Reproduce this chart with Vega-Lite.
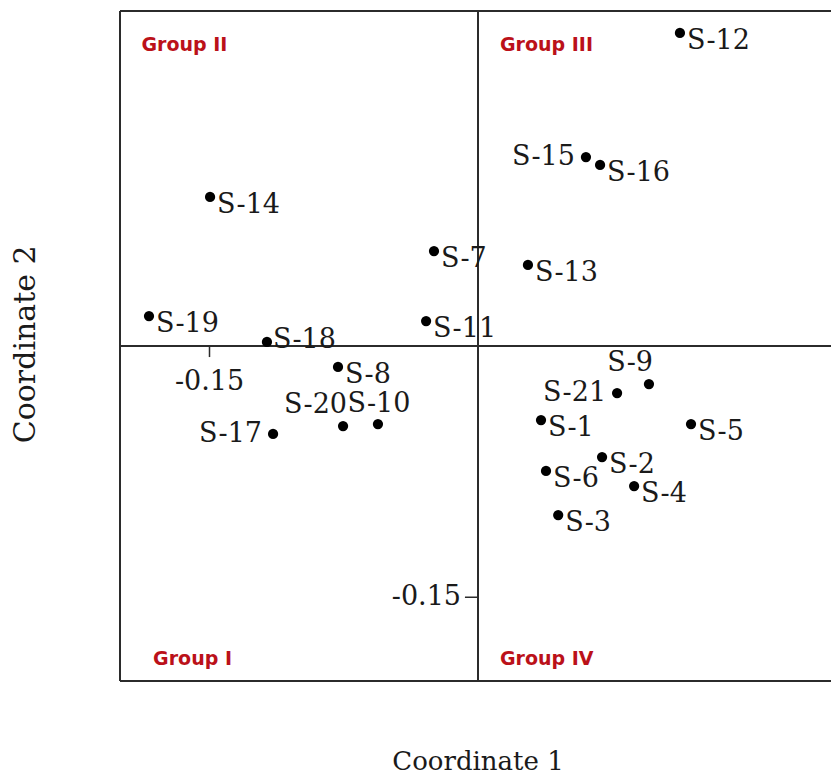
{
  "$schema": "https://vega.github.io/schema/vega-lite/v6.json",
  "width": 711,
  "height": 670,
  "autosize": {"type": "none"},
  "padding": {"left": 120, "top": 11, "right": 0, "bottom": 96},
  "background": "white",
  "config": {
    "view": {"stroke": null}
  },
  "datasets": {
    "points": [
      {"id": "S-1", "c1": 0.0352, "c2": -0.0442, "pos": "r"},
      {"id": "S-2", "c1": 0.0693, "c2": -0.0663, "pos": "r"},
      {"id": "S-3", "c1": 0.0448, "c2": -0.1009, "pos": "r"},
      {"id": "S-4", "c1": 0.0872, "c2": -0.0836, "pos": "r"},
      {"id": "S-5", "c1": 0.1190, "c2": -0.0466, "pos": "r"},
      {"id": "S-6", "c1": 0.0380, "c2": -0.0746, "pos": "r"},
      {"id": "S-7", "c1": -0.0246, "c2": 0.0567, "pos": "r"},
      {"id": "S-8", "c1": -0.0782, "c2": -0.0125, "pos": "r"},
      {"id": "S-9", "c1": 0.0955, "c2": -0.0227, "pos": "ul"},
      {"id": "S-10", "c1": -0.0559, "c2": -0.0466, "pos": "u"},
      {"id": "S-11", "c1": -0.0290, "c2": 0.0149, "pos": "r"},
      {"id": "S-12", "c1": 0.1128, "c2": 0.1869, "pos": "r"},
      {"id": "S-13", "c1": 0.0279, "c2": 0.0484, "pos": "r"},
      {"id": "S-14", "c1": -0.1497, "c2": 0.0890, "pos": "r"},
      {"id": "S-15", "c1": 0.0603, "c2": 0.1128, "pos": "l"},
      {"id": "S-16", "c1": 0.0682, "c2": 0.1081, "pos": "r"},
      {"id": "S-17", "c1": -0.1145, "c2": -0.0525, "pos": "l"},
      {"id": "S-18", "c1": -0.1179, "c2": 0.0024, "pos": "rm"},
      {"id": "S-19", "c1": -0.1838, "c2": 0.0179, "pos": "r"},
      {"id": "S-20", "c1": -0.0754, "c2": -0.0478, "pos": "ul"},
      {"id": "S-21", "c1": 0.0777, "c2": -0.0281, "pos": "l"}
    ],
    "groups": [
      {"name": "Group II", "c1": -0.188, "c2": 0.1797},
      {"name": "Group III", "c1": 0.0123, "c2": 0.1797},
      {"name": "Group I", "c1": -0.1815, "c2": -0.187},
      {"name": "Group IV", "c1": 0.0123, "c2": -0.187}
    ],
    "one": [{"k": 1}]
  },
  "layer": [
    {
      "data": {"name": "one"},
      "mark": {"type": "rule", "stroke": "#2b2b2b", "strokeWidth": 2},
      "encoding": {
        "x": {"datum": -0.2, "type": "quantitative", "scale": {"domain": [-0.2, 0.1972], "nice": false, "zero": false}, "axis": null}
      }
    },
    {
      "data": {"name": "one"},
      "mark": {"type": "rule", "stroke": "#2b2b2b", "strokeWidth": 2},
      "encoding": {
        "y": {"datum": 0.2, "type": "quantitative", "scale": {"domain": [-0.2, 0.2], "nice": false, "zero": false}, "axis": null}
      }
    },
    {
      "data": {"name": "one"},
      "mark": {"type": "rule", "stroke": "#2b2b2b", "strokeWidth": 2},
      "encoding": {
        "y": {"datum": -0.2, "type": "quantitative", "scale": {"domain": [-0.2, 0.2], "nice": false, "zero": false}, "axis": null}
      }
    },
    {
      "data": {"name": "one"},
      "mark": {"type": "rule", "stroke": "#2b2b2b", "strokeWidth": 2},
      "encoding": {
        "x": {"datum": 0, "type": "quantitative", "scale": {"domain": [-0.2, 0.1972], "nice": false, "zero": false}, "axis": null}
      }
    },
    {
      "data": {"name": "one"},
      "mark": {"type": "rule", "stroke": "#2b2b2b", "strokeWidth": 2},
      "encoding": {
        "y": {"datum": 0, "type": "quantitative", "scale": {"domain": [-0.2, 0.2], "nice": false, "zero": false}, "axis": null}
      }
    },
    {
      "data": {"name": "one"},
      "mark": {"type": "rule", "stroke": "#2b2b2b", "strokeWidth": 1.5},
      "encoding": {
        "x": {"datum": -0.15, "type": "quantitative", "scale": {"domain": [-0.2, 0.1972], "nice": false, "zero": false}, "axis": null},
        "y": {"datum": 0, "type": "quantitative", "scale": {"domain": [-0.2, 0.2], "nice": false, "zero": false}, "axis": null},
        "y2": {"datum": -0.0066}
      }
    },
    {
      "data": {"name": "one"},
      "mark": {"type": "rule", "stroke": "#2b2b2b", "strokeWidth": 1.5},
      "encoding": {
        "x": {"datum": -0.0073, "type": "quantitative", "scale": {"domain": [-0.2, 0.1972], "nice": false, "zero": false}, "axis": null},
        "x2": {"datum": 0},
        "y": {"datum": -0.15, "type": "quantitative", "scale": {"domain": [-0.2, 0.2], "nice": false, "zero": false}, "axis": null}
      }
    },
    {
      "data": {"name": "one"},
      "mark": {"type": "text", "text": "-0.15", "font": "DejaVu Serif", "fontSize": 27, "color": "#1a1a1a", "align": "center", "baseline": "middle", "dy": 36},
      "encoding": {
        "x": {"datum": -0.15, "type": "quantitative", "scale": {"domain": [-0.2, 0.1972], "nice": false, "zero": false}, "axis": null},
        "y": {"datum": 0, "type": "quantitative", "scale": {"domain": [-0.2, 0.2], "nice": false, "zero": false}, "axis": null}
      }
    },
    {
      "data": {"name": "one"},
      "mark": {"type": "text", "text": "-0.15", "font": "DejaVu Serif", "fontSize": 27, "color": "#1a1a1a", "align": "right", "baseline": "middle", "dx": -17, "dy": 0},
      "encoding": {
        "x": {"datum": 0, "type": "quantitative", "scale": {"domain": [-0.2, 0.1972], "nice": false, "zero": false}, "axis": null},
        "y": {"datum": -0.15, "type": "quantitative", "scale": {"domain": [-0.2, 0.2], "nice": false, "zero": false}, "axis": null}
      }
    },
    {
      "data": {"name": "one"},
      "mark": {"type": "text", "text": "Coordinate 1", "font": "DejaVu Serif", "fontSize": 26, "color": "#1a1a1a", "align": "center", "baseline": "middle", "dy": 81},
      "encoding": {
        "x": {"datum": 0, "type": "quantitative", "scale": {"domain": [-0.2, 0.1972], "nice": false, "zero": false}, "axis": null},
        "y": {"datum": -0.2, "type": "quantitative", "scale": {"domain": [-0.2, 0.2], "nice": false, "zero": false}, "axis": null}
      }
    },
    {
      "data": {"name": "one"},
      "mark": {"type": "text", "text": "Coordinate 2", "font": "DejaVu Serif", "fontSize": 30, "color": "#1a1a1a", "align": "center", "baseline": "middle", "angle": 270, "dy": -94},
      "encoding": {
        "x": {"datum": -0.2, "type": "quantitative", "scale": {"domain": [-0.2, 0.1972], "nice": false, "zero": false}, "axis": null},
        "y": {"datum": 0.001, "type": "quantitative", "scale": {"domain": [-0.2, 0.2], "nice": false, "zero": false}, "axis": null}
      }
    },
    {
      "data": {"name": "points"},
      "mark": {"type": "circle", "size": 105, "color": "#000", "opacity": 1},
      "encoding": {
        "x": {"field": "c1", "type": "quantitative", "scale": {"domain": [-0.2, 0.1972], "nice": false, "zero": false}, "axis": null},
        "y": {"field": "c2", "type": "quantitative", "scale": {"domain": [-0.2, 0.2], "nice": false, "zero": false}, "axis": null}
      }
    },
    {
      "data": {"name": "points"},
      "transform": [{"filter": "datum.pos === 'r'"}],
      "mark": {"type": "text", "font": "DejaVu Serif", "fontSize": 27, "color": "#1a1a1a", "align": "left", "baseline": "middle", "dx": 7, "dy": 8},
      "encoding": {
        "x": {"field": "c1", "type": "quantitative", "scale": {"domain": [-0.2, 0.1972], "nice": false, "zero": false}, "axis": null},
        "y": {"field": "c2", "type": "quantitative", "scale": {"domain": [-0.2, 0.2], "nice": false, "zero": false}, "axis": null},
        "text": {"field": "id"}
      }
    },
    {
      "data": {"name": "points"},
      "transform": [{"filter": "datum.pos === 'rm'"}],
      "mark": {"type": "text", "font": "DejaVu Serif", "fontSize": 27, "color": "#1a1a1a", "align": "left", "baseline": "middle", "dx": 6, "dy": -2},
      "encoding": {
        "x": {"field": "c1", "type": "quantitative", "scale": {"domain": [-0.2, 0.1972], "nice": false, "zero": false}, "axis": null},
        "y": {"field": "c2", "type": "quantitative", "scale": {"domain": [-0.2, 0.2], "nice": false, "zero": false}, "axis": null},
        "text": {"field": "id"}
      }
    },
    {
      "data": {"name": "points"},
      "transform": [{"filter": "datum.pos === 'l'"}],
      "mark": {"type": "text", "font": "DejaVu Serif", "fontSize": 27, "color": "#1a1a1a", "align": "right", "baseline": "middle", "dx": -11, "dy": 0},
      "encoding": {
        "x": {"field": "c1", "type": "quantitative", "scale": {"domain": [-0.2, 0.1972], "nice": false, "zero": false}, "axis": null},
        "y": {"field": "c2", "type": "quantitative", "scale": {"domain": [-0.2, 0.2], "nice": false, "zero": false}, "axis": null},
        "text": {"field": "id"}
      }
    },
    {
      "data": {"name": "points"},
      "transform": [{"filter": "datum.pos === 'ul'"}],
      "mark": {"type": "text", "font": "DejaVu Serif", "fontSize": 27, "color": "#1a1a1a", "align": "right", "baseline": "middle", "dx": 4, "dy": -21},
      "encoding": {
        "x": {"field": "c1", "type": "quantitative", "scale": {"domain": [-0.2, 0.1972], "nice": false, "zero": false}, "axis": null},
        "y": {"field": "c2", "type": "quantitative", "scale": {"domain": [-0.2, 0.2], "nice": false, "zero": false}, "axis": null},
        "text": {"field": "id"}
      }
    },
    {
      "data": {"name": "points"},
      "transform": [{"filter": "datum.pos === 'u'"}],
      "mark": {"type": "text", "font": "DejaVu Serif", "fontSize": 27, "color": "#1a1a1a", "align": "center", "baseline": "middle", "dx": 1, "dy": -20},
      "encoding": {
        "x": {"field": "c1", "type": "quantitative", "scale": {"domain": [-0.2, 0.1972], "nice": false, "zero": false}, "axis": null},
        "y": {"field": "c2", "type": "quantitative", "scale": {"domain": [-0.2, 0.2], "nice": false, "zero": false}, "axis": null},
        "text": {"field": "id"}
      }
    },
    {
      "data": {"name": "groups"},
      "mark": {"type": "text", "font": "DejaVu Sans", "fontWeight": "bold", "fontSize": 19, "color": "#bb1119", "align": "left", "baseline": "middle"},
      "encoding": {
        "x": {"field": "c1", "type": "quantitative", "scale": {"domain": [-0.2, 0.1972], "nice": false, "zero": false}, "axis": null},
        "y": {"field": "c2", "type": "quantitative", "scale": {"domain": [-0.2, 0.2], "nice": false, "zero": false}, "axis": null},
        "text": {"field": "name"}
      }
    }
  ]
}
